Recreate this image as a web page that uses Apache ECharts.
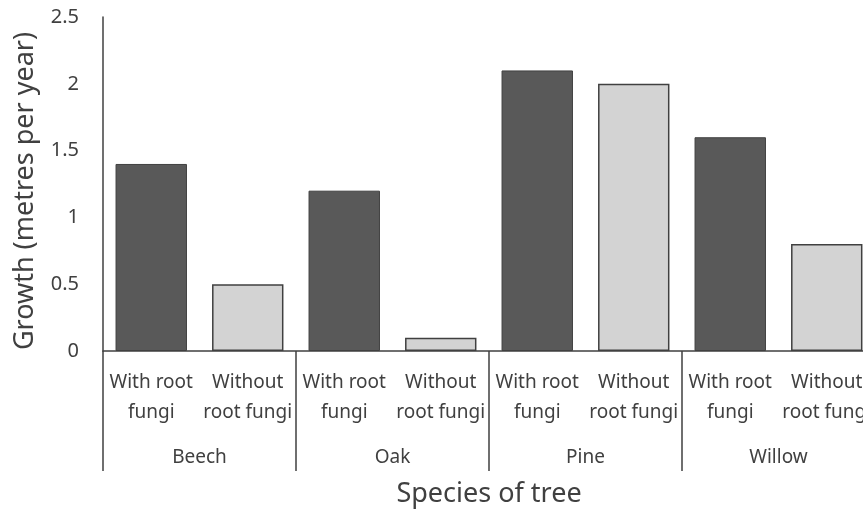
<!DOCTYPE html>
<html>
<head>
<meta charset="utf-8">
<script src="https://cdn.jsdelivr.net/npm/echarts@6/dist/echarts.min.js"></script>
<style>
  html, body { margin: 0; padding: 0; background: #fff; }
  #chart { width: 863px; height: 510px; }
</style>
</head>
<body>
<div id="chart"></div>
<script>
var species = ["Beech", "Oak", "Pine", "Willow"];
var subLabels = ["With root\nfungi", "Without\nroot fungi"];
var withFungi = [1.4, 1.2, 2.1, 1.6];
var withoutFungi = [0.5, 0.1, 2.0, 0.8];

var darkBar = { color: "#595959", borderColor: "#404040", borderWidth: 1 };
var lightBar = { color: "#d3d3d3", borderColor: "#404040", borderWidth: 1.5 };

// one bar per sub-category, two per species
var subCats = [];
var barData = [];
for (var i = 0; i < species.length; i++) {
  subCats.push(subLabels[0], subLabels[1]);
  barData.push({ value: withFungi[i], itemStyle: darkBar });
  barData.push({ value: withoutFungi[i], itemStyle: lightBar });
}

var chart = echarts.init(document.getElementById("chart"));
var font = "Noto Sans";
var textColor = "#404040";

var option = {
  animation: false,
  // the original is cropped on the right, so the plot runs past the edge
  grid: { left: 103, width: 772, top: 17, height: 334, outerBoundsMode: "none" },
  xAxis: [
    {
      type: "category",
      data: subCats,
      axisLine: { lineStyle: { color: "#404040", width: 1.5 } },
      axisTick: { show: false },
      axisLabel: {
        interval: 0,
        margin: 17,
        fontFamily: font,
        fontSize: 19,
        lineHeight: 30,
        color: textColor,
      },
    },
    {
      type: "category",
      data: species,
      position: "bottom",
      axisLine: { show: false },
      axisTick: { show: true, interval: 0, length: 120, lineStyle: { color: "#404040", width: 1.5 } },
      axisLabel: {
        interval: 0,
        margin: 97,
        fontFamily: font,
        fontSize: 19,
        color: textColor,
      },
      name: "Species of tree",
      nameLocation: "middle",
      nameGap: 130,
      nameTextStyle: { fontFamily: font, fontSize: 27, color: textColor },
    },
  ],
  yAxis: {
    type: "value",
    min: 0,
    max: 2.5,
    interval: 0.5,
    splitLine: { show: false },
    axisLine: { show: true, lineStyle: { color: "#404040", width: 1.5 } },
    axisTick: { show: false },
    axisLabel: { margin: 24, fontFamily: font, fontSize: 20, color: textColor },
    name: "Growth (metres per year)",
    nameLocation: "middle",
    nameGap: 64,
    nameTextStyle: { fontFamily: font, fontSize: 27, color: textColor, padding: [0, 14, 0, 0] },
  },
  series: [
    {
      type: "bar",
      data: barData,
      xAxisIndex: 0,
      barWidth: "74%",
    },
  ],
};

chart.setOption(option);
</script>
</body>
</html>
